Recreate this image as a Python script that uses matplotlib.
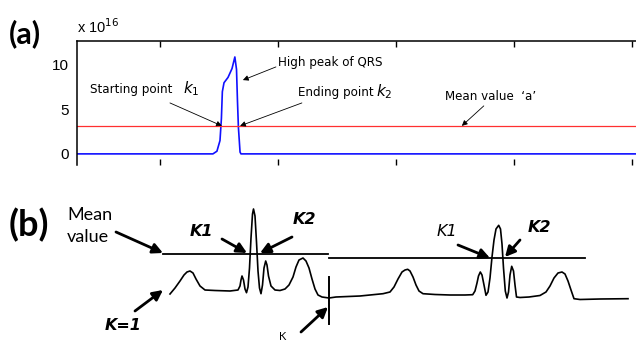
import matplotlib.pyplot as plt
import numpy as np

# ---- panel (a): energy signal around one QRS (units of 1e16) ----
a_x = [150, 726, 743, 756, 762, 766, 773, 790, 807, 819, 826, 830, 834, 841, 845, 2519]
a_y = [0, 0, 0.3, 1.5, 4.0, 7.0, 8.0, 8.6, 9.6, 10.9, 9.5, 6.0, 3.0, 0.2, 0, 0]
mean_a = 3.15
a_xticks = [500, 1000, 1500, 2000, 2500]
a_yticks = [0, 5, 10]

# ---- panel (b): schematic ECG trace (figure pixel coords) ----
b_x = [170, 175, 180, 184, 187, 190, 193, 196, 200, 205, 215, 230, 238, 240, 241, 242,
       243.5, 245, 246.5, 248, 249.5, 251, 252.5, 253.5, 255, 256.5, 258, 259.5, 261,
       262.5, 264, 265.7, 267, 268.5, 271, 275, 280, 285, 289, 293, 296, 299, 303, 306,
       309, 312, 315, 318, 322, 329,
       336, 360, 383, 390, 394, 398, 402, 405, 407.7, 410, 413, 416, 419, 423, 435, 450,
       465, 472.7, 475, 477, 478.5, 480.3, 482, 484, 486, 488, 490, 492, 494, 496, 498.7,
       500.5, 502, 503.5, 505.3, 507, 508.5, 510, 511.7, 513.5, 515, 516.5, 520, 529,
       540, 546, 550, 554, 558, 562, 565, 568, 571, 574, 580, 600, 628]
b_y = [294, 288, 281, 275, 272, 271, 273, 279, 286, 290, 290.5, 291, 290, 286, 280, 276,
       280, 289, 292.7, 287, 268, 238, 214, 209, 216, 242, 271, 288, 293.7,
       285, 268, 261, 265, 276, 286, 290, 290.5, 289, 285, 277, 267, 260, 258, 261,
       268, 279, 289, 295, 297, 298,
       297, 296, 293.7, 292, 287, 279, 272, 270, 269.3, 271, 277, 285, 291, 293.7, 294.5, 295,
       295, 294.7, 291, 283, 276, 272, 275, 285, 295.3, 292, 278, 257, 240, 229, 225.3,
       229, 244, 268, 291, 298, 292, 275, 266.3, 271, 285, 297, 297.5, 297,
       295.5, 292, 286, 278, 273, 272, 274, 281, 290, 298.7, 299.5, 299, 298.7]
mean_b1 = ([163, 328], [254, 254])
mean_b2 = ([329, 585], [258, 258])

fig = plt.figure(figsize=(6.36, 3.44), dpi=100)

ax = fig.add_axes([77/636, 179/344, 559/636, 123.5/344])
ax.plot(a_x, a_y, color='#1010ff', lw=1.2)
ax.axhline(mean_a, color='#ff3030', lw=0.9)
ax.set_xlim(150, 2519)
ax.set_ylim(-1.25, 12.64)
ax.set_xticks(a_xticks)
ax.set_xticklabels([])
ax.set_yticks(a_yticks)
ax.set_yticklabels([str(v) for v in a_yticks], fontsize=11, family='Liberation Sans')
ax.tick_params(axis='x', direction='in', length=4, top=True, width=1)
ax.tick_params(axis='y', direction='in', length=0, pad=6)
ax.spines['right'].set_visible(False)
ax.spines['bottom'].set_visible(False)
for s in ['left', 'top']:
    ax.spines[s].set_linewidth(1.1)

arr = dict(arrowstyle='-|>', color='k', lw=0.6, mutation_scale=8, shrinkA=0, shrinkB=0)
fs = 8.6
ax.text(205, 7.2, 'Starting point', fontsize=fs, va='center')
ax.text(599, 7.3, r'$k_1$', fontsize=11, va='center')
ax.annotate('', xy=(764, 3.15), xytext=(544, 5.73), arrowprops=arr)
ax.text(1002, 10.3, 'High peak of QRS', fontsize=fs, va='center')
ax.annotate('', xy=(853, 8.3), xytext=(993, 9.78), arrowprops=arr)
ax.text(1086, 6.85, 'Ending point', fontsize=fs, va='center')
ax.text(1417, 6.95, r'$k_2$', fontsize=11, va='center')
ax.annotate('', xy=(841, 3.15), xytext=(1103, 5.73), arrowprops=arr)
ax.text(1709, 6.5, 'Mean value  \u2018a\u2019', fontsize=fs, va='center')
ax.annotate('', xy=(1781, 3.15), xytext=(1874, 5.4), arrowprops=arr)

fig.text(77/636, 1 - 27/344, r'x 10$^{16}$', fontsize=10.5, family='Liberation Sans', va='center')
fig.text(9/636, 1 - 34/344, '(a)', fontsize=22, fontweight='bold', family='Lato', va='center')

# panel (b) in pixel coordinates over the whole figure
bx = fig.add_axes([0, 0, 1, 1])
bx.set_xlim(0, 636)
bx.set_ylim(344, 0)
bx.axis('off')
bx.patch.set_alpha(0)

bx.plot(b_x, b_y, color='k', lw=1.2, solid_joinstyle='round')
bx.plot(*mean_b1, color='k', lw=1.3)
bx.plot(*mean_b2, color='k', lw=1.3)
bx.plot([329, 329], [277, 324], color='k', lw=1.4)

barr = dict(arrowstyle='-|>', color='k', lw=2.0, mutation_scale=15, shrinkA=0, shrinkB=0)
bx.text(9, 225, '(b)', fontsize=26, fontweight='bold', family='Lato', va='center')
bx.text(67, 215, 'Mean', fontsize=13, family='Lato', va='center')
bx.text(67, 237, 'value', fontsize=13, family='Lato', va='center')
bx.annotate('', xy=(163, 253), xytext=(116, 232), arrowprops=barr)
kw = dict(fontsize=11.5, family='DejaVu Sans', fontweight='bold', style='italic', va='center')
bx.text(190, 231, 'K1', **kw)
bx.annotate('', xy=(247, 253), xytext=(222, 239), arrowprops=barr)
bx.text(293, 220, 'K2', **kw)
bx.annotate('', xy=(260, 253), xytext=(292, 237), arrowprops=barr)
bx.text(105, 326, 'K=1', **kw)
bx.annotate('', xy=(163, 290), xytext=(135, 311), arrowprops=barr)
bx.text(279, 336, 'K', fontsize=8, family='Lato', va='center')
bx.annotate('', xy=(328, 307), xytext=(301, 332), arrowprops=barr)
bx.text(437, 231, 'K1', fontsize=11.5, family='DejaVu Sans', style='italic', va='center')
bx.annotate('', xy=(490, 258), xytext=(458, 245), arrowprops=barr)
bx.text(528, 227, 'K2', **kw)
bx.annotate('', xy=(505, 257), xytext=(520, 240), arrowprops=barr)

fig.savefig('out.png', dpi=100)
